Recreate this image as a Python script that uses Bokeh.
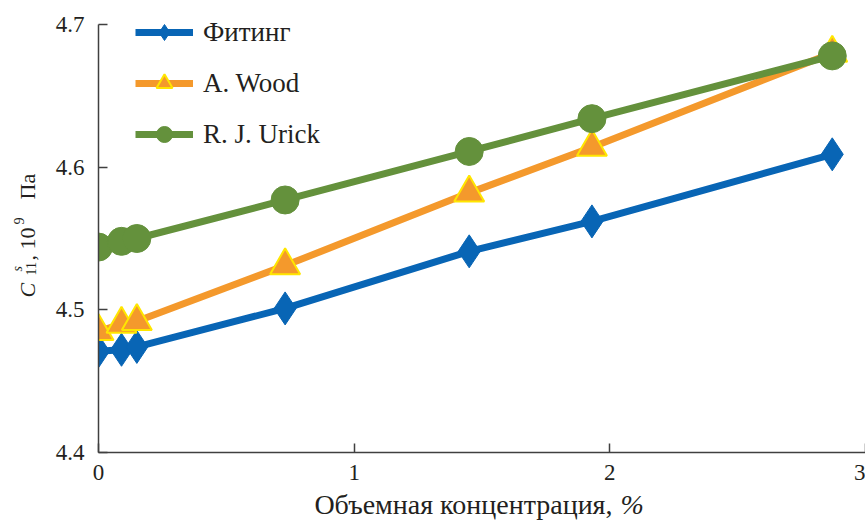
import math

from bokeh.plotting import figure
from bokeh.models import Legend, LegendItem, Label, FixedTicker
from bokeh.embed import file_html
from bokeh.resources import INLINE

# Volume concentration, %
conc = [0.0, 0.09, 0.15, 0.73, 1.45, 1.93, 2.87]

# Elastic modulus C11^s, 10^9 Pa
fitting = [4.471, 4.472, 4.474, 4.501, 4.541, 4.562, 4.609]
wood = [4.485, 4.490, 4.492, 4.531, 4.582, 4.614, 4.680]
urick = [4.544, 4.548, 4.550, 4.577, 4.611, 4.634, 4.678]

series_names = ["Фитинг", "A. Wood", "R. J. Urick"]
x_ticks = [0, 1, 2, 3]
y_ticks = [4.4, 4.5, 4.6, 4.7]
x_title = "Объемная концентрация,"
x_unit = "%"

SERIF = "Liberation Serif"
INK = "#231f20"
AXIS = "#404040"
BLUE = "#0865b5"
ORANGE = "#f4992c"
GREEN = "#64913c"
YELLOW = "#ffe600"

# Canvas size and where the axes box sits on it (pixels)
W, H = 865, 522
BOX_L, BOX_R, BOX_T, BOX_B = 98, 865, 24, 452
X0, X1 = 0.0, 3.0
Y0, Y1 = 4.4, 4.7

sx = (BOX_R - BOX_L) / (X1 - X0)   # px per x unit
sy = (BOX_B - BOX_T) / (Y1 - Y0)   # px per y unit


def dx(cx):
    """canvas x pixel -> data x"""
    return X0 + (cx - BOX_L) / sx


def dy(cy):
    """canvas y pixel -> data y"""
    return Y0 + (BOX_B - cy) / sy


# The frame spans the whole canvas so that titles can sit anywhere;
# the axes are pinned at x=0 / y=4.4 and bounded to the data box.
p = figure(width=W, height=H, x_range=(dx(0), dx(W)), y_range=(dy(H), dy(0)),
           output_backend="svg", toolbar_location=None, min_border=0)
p.outline_line_color = None
p.grid.visible = False
p.background_fill_color = "white"
p.border_fill_color = "white"

p.xaxis.axis_line_color = AXIS
p.yaxis.axis_line_color = AXIS
p.xaxis.axis_line_width = 1.5
p.yaxis.axis_line_width = 1.5
p.xaxis.major_tick_line_color = AXIS
p.yaxis.major_tick_line_color = AXIS
p.xaxis.major_tick_line_width = 1.5
p.yaxis.major_tick_line_width = 1.5
p.xaxis.major_tick_in = 9
p.yaxis.major_tick_in = 9
p.xaxis.major_tick_out = 0
p.yaxis.major_tick_out = 0
p.xaxis.minor_tick_line_color = None
p.yaxis.minor_tick_line_color = None
p.xaxis.major_label_text_font = SERIF
p.yaxis.major_label_text_font = SERIF
p.xaxis.major_label_text_font_style = "normal"
p.yaxis.major_label_text_font_style = "normal"
p.xaxis.major_label_text_font_size = "23px"
p.yaxis.major_label_text_font_size = "23px"
p.xaxis.major_label_text_color = INK
p.yaxis.major_label_text_color = INK

p.xaxis.fixed_location = Y0
p.yaxis.fixed_location = X0
p.xaxis.bounds = (X0, X1)
p.yaxis.bounds = (Y0, Y1)
p.xaxis.ticker = FixedTicker(ticks=x_ticks)
p.yaxis.ticker = FixedTicker(ticks=y_ticks)
p.xaxis.major_label_standoff = 12
p.yaxis.major_label_standoff = 14
p.yaxis.major_label_overrides = {t: f"{t:.1f}" for t in y_ticks}
p.xaxis.major_label_overrides = {t: str(t) for t in x_ticks}

# Series: line + marker
l1 = p.line(conc, fitting, line_color=BLUE, line_width=7)
m1 = p.scatter(conc, fitting, marker="diamond", size=33, fill_color=BLUE,
               line_color=BLUE, line_width=1)
l2 = p.line(conc, wood, line_color=ORANGE, line_width=7)
m2 = p.scatter(conc, wood, marker="triangle", size=30, fill_color=ORANGE,
               line_color=YELLOW, line_width=2)
l3 = p.line(conc, urick, line_color=GREEN, line_width=7)
m3 = p.scatter(conc, urick, marker="circle", size=28, fill_color=GREEN,
               line_color=GREEN, line_width=1)

# Markers are cut at the vertical axis: mask everything left of x=0
p.quad(left=[dx(0)], right=[X0], bottom=[dy(H)], top=[dy(0)],
       fill_color="white", line_color=None)

legend = Legend(items=[
    LegendItem(label=series_names[0], renderers=[l1, m1]),
    LegendItem(label=series_names[1], renderers=[l2, m2]),
    LegendItem(label=series_names[2], renderers=[l3, m3]),
], location=(135, H - 154), orientation="vertical",
    glyph_width=58, glyph_height=40, label_height=40, spacing=11,
    padding=0, margin=0, label_standoff=10,
    background_fill_alpha=0, border_line_alpha=0,
    label_text_font=SERIF, label_text_font_size="27px",
    label_text_font_style="normal", label_text_color=INK)
p.add_layout(legend)


def add_text(txt, cx, cy, size, style="normal", angle=0.0, align="left"):
    p.add_layout(Label(x=dx(cx), y=dy(cy), text=txt, angle=angle,
                       text_font=SERIF, text_font_size=size,
                       text_font_style=style, text_color=INK,
                       text_align=align, text_baseline="alphabetic"))


# Horizontal axis title, the unit sign set in italics
add_text(x_title, 612, 504, "28px", align="right")
add_text(x_unit, 620, 504, "28px", style="italic")

# Vertical axis title: C with s over 11, ", 10" with superscript 9, "Па"
ANG = math.pi / 2
add_text("C", 27, 297, "22px", "italic", ANG)
add_text("s", 17, 271, "14px", "italic", ANG)
add_text("11", 30, 275, "14px", "normal", ANG)
add_text(", 10", 27, 260, "22px", "normal", ANG)
add_text("9", 18, 224, "14px", "normal", ANG)
add_text("Па", 27, 199, "22px", "normal", ANG)

open("out.html", "w").write(file_html(p, INLINE))
